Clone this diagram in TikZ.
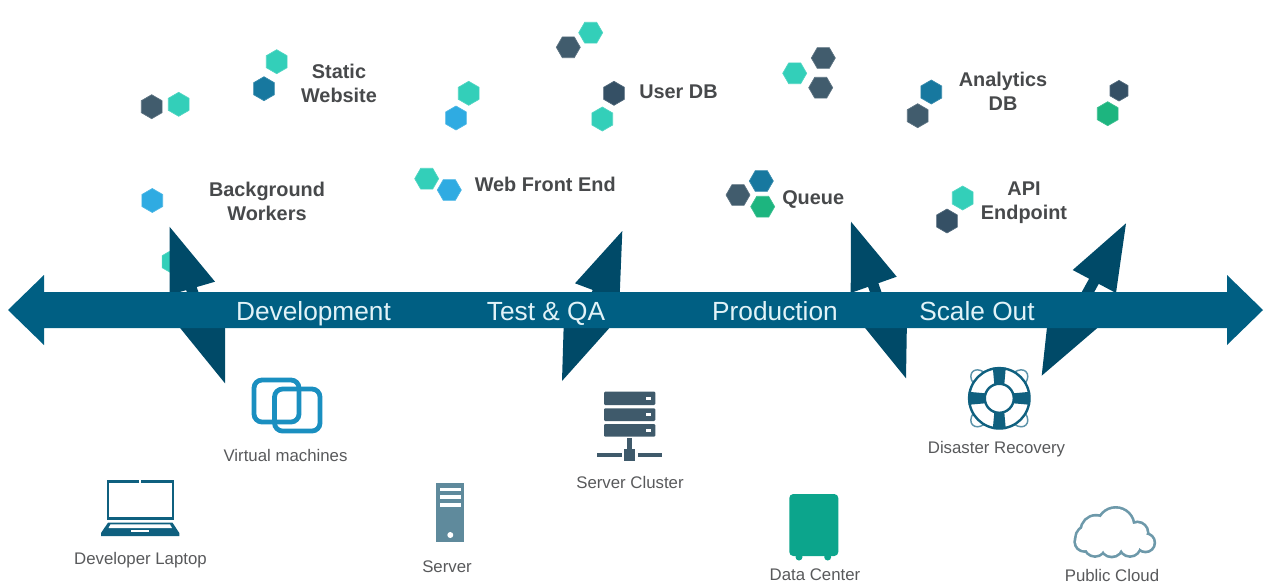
\documentclass[tikz,border=0pt]{standalone}
\usepackage{fontspec}
\setmainfont{Liberation Sans}
\usetikzlibrary{shapes.geometric}
\definecolor{cteal}{HTML}{33CFB9}
\definecolor{cdark}{HTML}{415C6D}
\definecolor{cnavy}{HTML}{355065}
\definecolor{cblue}{HTML}{17789F}
\definecolor{clight}{HTML}{2FABE2}
\definecolor{cgreen}{HTML}{1DB57F}
\definecolor{cbar}{HTML}{005F83}
\definecolor{chead}{HTML}{004A68}
\definecolor{cvm}{HTML}{1A8FC0}
\definecolor{csrv}{HTML}{5F8A9C}
\definecolor{crack}{HTML}{3F5A6B}
\definecolor{cdc}{HTML}{0CA58C}
\definecolor{ccloud}{HTML}{6D99AA}
\definecolor{cbuoy}{HTML}{0F607F}
\definecolor{crope}{HTML}{5C93A9}
\definecolor{cbold}{HTML}{47494B}
\definecolor{clabel}{HTML}{58595B}
\definecolor{cbartext}{HTML}{E2F3F8}
\tikzset{
  hexf/.style={regular polygon,regular polygon sides=6,minimum size=18pt,inner sep=0pt,fill=#1,draw=#1!85!white,line width=.5pt},
  hexp/.style={hexf=#1,shape border rotate=30},
  boldtext/.style={font=\fontsize{14.9}{18}\bfseries\selectfont,text=cbold,inner sep=0pt},
  icontext/.style={font=\fontsize{12.6}{15}\selectfont,text=clabel,inner sep=0pt,anchor=base},
  bartext/.style={font=\fontsize{19.7}{24}\selectfont,text=cbartext,inner sep=0pt,anchor=base},
  headfill/.style={fill=chead},
  stem/.style={draw=chead,line width=8.2pt,shorten >=55pt,shorten <=40pt},
}
\begin{document}
\begin{tikzpicture}[x=0.75pt,y=-0.75pt]
\useasboundingbox (0,0) rectangle (1272,586);
% hexagons
\node[hexp=cdark] (h1) at (151.7,106.7) {};
\node[hexp=cteal] (h2) at (178.7,104.3) {};
\node[hexp=cteal] (h3) at (276.7,61.7) {};
\node[hexp=cblue] (h4) at (264,88.7) {};
\node[hexp=clight] (h5) at (152.3,200.5) {};
\node[hexp=cteal] (h6) at (172.5,261.7) {};
\node[hexp=cteal] (h7) at (468.7,93.3) {};
\node[hexp=clight] (h8) at (456,118) {};
\node[hexf=cteal] (h9) at (426.7,178.7) {};
\node[hexf=clight] (h10) at (449.3,190) {};
\node[hexf=cteal] (h11) at (590.7,32.7) {};
\node[hexf=cdark] (h12) at (568.3,47.3) {};
\node[hexp=cnavy] (h13) at (614,93.3) {};
\node[hexp=cteal] (h14) at (602.3,119) {};
\node[hexf=cdark] (h15) at (823.3,58) {};
\node[hexf=cteal] (h16) at (794.7,73.3) {};
\node[hexf=cdark] (h17) at (820.7,87.7) {};
\node[hexp=cblue] (h18) at (931.3,92) {};
\node[hexp=cdark] (h19) at (917.7,115.7) {};
\node[hexp=cnavy,minimum size=15.5pt] (h20) at (1119,90.7) {};
\node[hexp=cgreen] (h21) at (1107.7,113.7) {};
\node[hexf=cblue] (h22) at (761.3,181) {};
\node[hexf=cdark] (h23) at (738,195) {};
\node[hexf=cgreen] (h24) at (762.7,206.7) {};
\node[hexp=cteal] (h25) at (962.7,198) {};
\node[hexp=cnavy] (h26) at (947,221) {};
% arrow tips
\coordinate (devup) at (169.5,226.7);
\coordinate (devdn) at (225,383.3);
\coordinate (qaup) at (622.3,231);
\coordinate (qadn) at (562,381);
\coordinate (produp) at (851,221.7);
\coordinate (proddn) at (906,378.3);
\coordinate (scaleup) at (1126,223.3);
\coordinate (scaledn) at (1041.7,375.7);
% stems
\draw[stem] (devup) -- (devdn);
\draw[stem] (qaup) -- (qadn);
\draw[stem] (produp) -- (proddn);
\draw[stem] (scaleup) -- (scaledn);
% arrow heads
\fill[headfill] (devup) -- (215,281.7) -- (169.5,295) -- cycle;
\fill[headfill] (devdn) -- (225,318) -- (172,318) -- cycle;
\fill[headfill] (qaup) -- (575,283.3) -- (619.5,300) -- cycle;
\fill[headfill] (qadn) -- (564,315) -- (621,315) -- cycle;
\fill[headfill] (produp) -- (896.7,276.7) -- (850.7,293) -- cycle;
\fill[headfill] (proddn) -- (907,318) -- (857,318) -- cycle;
\fill[headfill] (scaleup) -- (1072.7,270) -- (1116,293) -- cycle;
\fill[headfill] (scaledn) -- (1048,318) -- (1109,318) -- cycle;
% timeline
\fill[cbar] (8,310) -- (44,275) -- (44,292) -- (1227,292) -- (1227,275) -- (1263,310) -- (1227,345) -- (1227,328) -- (44,328) -- (44,345) -- cycle;
\node[bartext] (tdev) at (313.5,320) {Development};
\node[bartext] (tqa) at (546,320) {Test \& QA};
\node[bartext] (tprod) at (775,320) {Production};
\node[bartext] (tscale) at (977,320) {Scale Out};
% service labels
\node[boldtext,align=center] (lstatic) at (339,83) {Static\\Website};
\node[boldtext,align=center] (lback) at (267,201.5) {Background\\Workers};
\node[boldtext,anchor=base west] (lweb) at (474.5,191) {Web Front End};
\node[boldtext,anchor=base west] (luser) at (639,98) {User DB};
\node[boldtext,anchor=base west] (lqueue) at (782,204) {Queue};
\node[boldtext,align=center] (lana) at (1003,91.5) {Analytics\\DB};
\node[boldtext,align=center] (lapi) at (1024,203) {API\\Endpoint};
% virtual machines icon
\draw[cvm,line width=3.6pt,rounded corners=6pt] (254,380) rectangle (299,422);
\draw[cvm,line width=3.6pt,rounded corners=6pt] (274.5,389) rectangle (320,431);
\node[icontext] (lvm) at (285.5,461) {Virtual machines};
% laptop icon
\draw[cbuoy,line width=2.1pt] (139,481.5) -| (108,518.5) -| (173,481.5) -- (141,481.5);
\fill[cbuoy] (108,522.7) -- (172.5,522.7) -- (179.3,533) -- (179.3,536) -- (101,536) -- (101,533) -- cycle;
\fill[white] (110.5,524.4) -- (170,524.4) -- (172,528) -- (108.5,528) -- cycle;
\fill[white] (131,530) rectangle (149.3,531.6);
\node[icontext] (llap) at (140.5,564) {Developer Laptop};
% server icon
\fill[csrv] (436,482.7) rectangle (464,542.3);
\fill[white] (440,487.5) rectangle (460.7,491);
\fill[white] (440,495.3) rectangle (460.7,498.8);
\fill[white] (440,503.2) rectangle (460.7,506.7);
\fill[white] (450.3,535) circle (3);
\node[icontext] (lsrv) at (447,572) {Server};
% cluster icon
\foreach \ya/\yb in {391.7/405,408.3/421,424/436.7}{
  \fill[crack,rounded corners=.8pt] (604,\ya) rectangle (655.3,\yb);
  \fill[white] (645.7,{(\ya+\yb)/2-1.7}) rectangle (650.7,{(\ya+\yb)/2+1.7});
}
\fill[crack] (627.3,438.3) rectangle (632,450);
\fill[crack] (624,449) rectangle (635,460.7);
\fill[crack] (596.7,453.3) rectangle (621.7,457.3);
\fill[crack] (638.3,453.3) rectangle (662.3,457.3);
\node[icontext] (lclu) at (630,488) {Server Cluster};
% data center icon
\fill[cdc] (799,557) circle (3.5);
\fill[cdc] (827.7,557) circle (3.5);
\fill[cdc,rounded corners=3pt] (789.3,494) rectangle (838.3,556);
\node[icontext] (ldc) at (815,580) {Data Center};
% lifebuoy icon
\begin{scope}[shift={(999.3,398.3)}]
  \foreach \a in {45,135,225,315}{
    \draw[crope,line width=1.1pt] ({\a-15}:30) .. controls ({\a-8}:41) and ({\a+8}:41) .. ({\a+15}:30);
  }
  \draw[cbuoy,fill=white,line width=1.8pt] (0,0) circle (30.2);
  \foreach \a in {0,90,180,270}{
    \fill[cbuoy,rotate=\a] (14,-5) -- (30.8,-6.5) -- (30.8,6.5) -- (14,5) -- cycle;
  }
  \draw[cbuoy,fill=white,line width=1.8pt] (0,0) circle (14.5);
\end{scope}
\node[icontext] (ldr) at (996.5,453) {Disaster Recovery};
% cloud icon
\foreach \cx/\cy/\r in {1084.5/541.7/8.5,1088.3/538.3/11.7,1096/530.5/14,1115.7/526/17.3,1137.3/532.7/9.5,1145.5/542.7/8,1095/545.7/9.5,1111.7/545.7/10,1130/545.7/9.5}{
  \draw[ccloud,line width=4pt] (\cx,\cy) circle (\r);
}
\foreach \cx/\cy/\r in {1084.5/541.7/8.5,1088.3/538.3/11.7,1096/530.5/14,1115.7/526/17.3,1137.3/532.7/9.5,1145.5/542.7/8,1095/545.7/9.5,1111.7/545.7/10,1130/545.7/9.5}{
  \fill[white] (\cx,\cy) circle (\r);
}
\fill[white] (1088,532) rectangle (1140,548);
\node[icontext] (lcl) at (1112,581) {Public Cloud};
\end{tikzpicture}
\end{document}
